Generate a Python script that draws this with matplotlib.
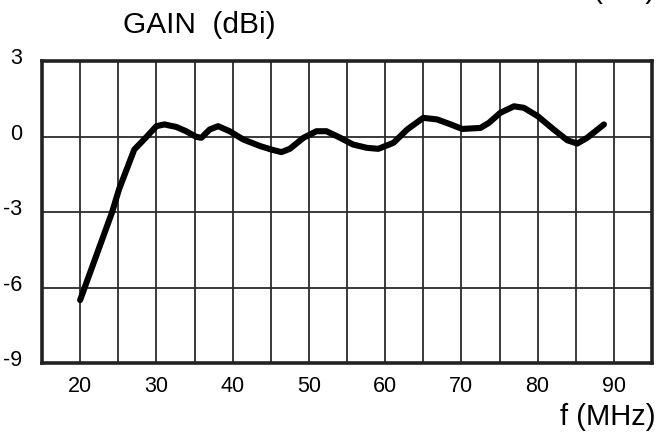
import matplotlib.pyplot as plt
import matplotlib.transforms as mtransforms

plt.rcParams["font.family"] = ["Liberation Sans", "DejaVu Sans"]
plt.rcParams["axes.unicode_minus"] = False

# gain curve (MHz, dBi)
freq_mhz = [20.0, 24.2, 25.1, 27.1, 28.6, 30.0, 31.05, 32.6, 33.9, 35.2, 35.9,
            37.0, 38.1, 39.6, 41.4, 43.6, 45.1, 46.4, 47.5, 49.3, 51.0, 52.3,
            54.1, 55.8, 57.6, 59.1, 61.1, 62.9, 65.0, 66.8, 68.6, 70.1, 72.5,
            73.6, 75.1, 76.9, 78.2, 80.0, 82.1, 83.9, 85.2, 86.5, 88.7]
gain_dbi = [-6.5, -3.0, -2.1, -0.52, -0.05, 0.41, 0.48, 0.38, 0.21, -0.01, -0.05,
            0.28, 0.41, 0.21, -0.12, -0.38, -0.52, -0.62, -0.49, -0.05, 0.21, 0.21,
            -0.05, -0.32, -0.45, -0.49, -0.25, 0.28, 0.74, 0.68, 0.48, 0.30, 0.34,
            0.54, 0.94, 1.20, 1.14, 0.81, 0.28, -0.15, -0.28, -0.05, 0.48]

x_ticks = [20, 30, 40, 50, 60, 70, 80, 90]
x_minor = [25, 35, 45, 55, 65, 75, 85]
y_ticks = [-9, -6, -3, 0, 3]

fig = plt.figure(figsize=(6.68, 4.36), dpi=100)
ax = fig.add_axes([42 / 668, 1 - 363 / 436, 610 / 668, 302 / 436])

ax.plot(freq_mhz, gain_dbi, color="black", linewidth=4.4,
        solid_capstyle="round", solid_joinstyle="round", zorder=3)

ax.set_xlim(15, 95)
ax.set_ylim(-9, 3)
ax.set_xticks(x_ticks)
ax.set_xticks(x_minor, minor=True)
ax.set_yticks(y_ticks)
ax.tick_params(which="both", length=0, labelsize=15.5, colors="black")
ax.tick_params(axis="x", pad=9)
ax.tick_params(axis="y", pad=14)
ax.grid(which="both", color="#2b2b2b", linewidth=1.3)

for s in ax.spines.values():
    s.set_linewidth(2.6)
    s.set_color("#222222")

# y labels sit a little above their grid lines
shift = mtransforms.ScaledTranslation(0, 5 / 100, fig.dpi_scale_trans)
for lab in ax.get_yticklabels():
    lab.set_transform(lab.get_transform() + shift)

fig.text(123 / 668, 1 - 33 / 436, "GAIN  (dBi)", fontsize=21.5, ha="left", va="baseline")
fig.text(656 / 668, 1 - 425 / 436, "f (MHz)", fontsize=21, ha="right", va="baseline")
# clipped label at the very top edge of the source image
fig.text(592 / 668, 1 + 2 / 436, "(dBi)", fontsize=21.5, ha="left", va="baseline")

fig.savefig("out.png", dpi=100)
